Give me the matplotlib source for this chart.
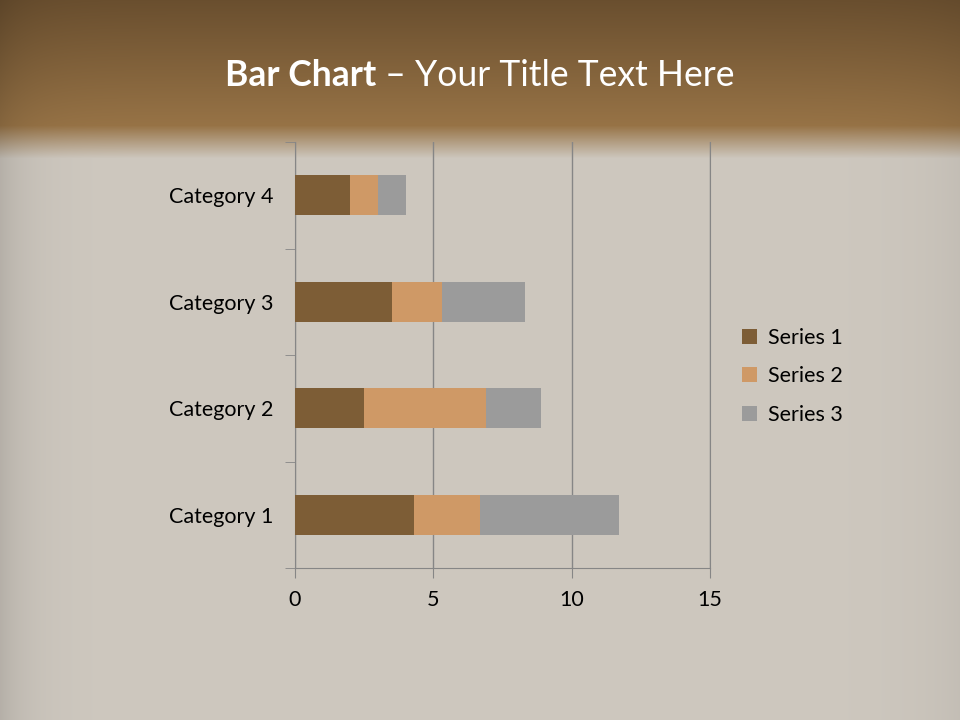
import numpy as np
import matplotlib.pyplot as plt

categories = ['Category 1', 'Category 2', 'Category 3', 'Category 4']
series1 = [4.3, 2.5, 3.5, 2.0]
series2 = [2.4, 4.4, 1.8, 1.0]
series3 = [5.0, 2.0, 3.0, 1.0]
series_names = ['Series 1', 'Series 2', 'Series 3']
colors = ['#7d5d36', '#cf9966', '#9b9b9b']

plt.rcParams['font.family'] = ['Lato', 'DejaVu Sans']

fig = plt.figure(figsize=(9.6, 7.2), dpi=100)

# background: brown header band fading into a pale wood grey
bg = fig.add_axes([0, 0, 1, 1])
h = 720
top = np.array([0x6a, 0x4f, 0x2f]) / 255
mid = np.array([0x97, 0x73, 0x46]) / 255
low = np.array([0xce, 0xc8, 0xbf]) / 255
img = np.zeros((h, 960, 3))
for i in range(h):
    if i < 125:
        f = i / 125
        img[i] = top * (1 - f) + mid * f
    elif i < 158:
        f = (i - 125) / 33
        img[i] = mid * (1 - f) + low * f
    else:
        img[i] = low
x = np.linspace(0, 1, 960)
shade = 1 - 0.12 * np.exp(-x / 0.03) - 0.05 * np.exp(-(1 - x) / 0.05)
img = img * shade[None, :, None]
bg.imshow(img, aspect='auto', extent=[0, 1, 0, 1])
bg.axis('off')

# two-part title, centred as a whole
t1 = fig.text(0, 0.895, 'Bar Chart', ha='left', va='center', color='white',
              fontsize=25.6, fontweight='bold')
t2 = fig.text(0, 0.895, ' – Your Title Text Here', ha='left', va='center',
              color='white', fontsize=25.6)
r = fig.canvas.get_renderer()
w1 = t1.get_window_extent(r).width / 960
w2 = t2.get_window_extent(r).width / 960
x0 = 0.5 - (w1 + w2) / 2
t1.set_x(x0)
t2.set_x(x0 + w1)

ax = fig.add_axes([295 / 960, 1 - 568 / 720, 415 / 960, 426 / 720])
ax.patch.set_alpha(0)
pos = np.arange(len(categories))
left = np.zeros(len(categories))
for vals, name, c in zip([series1, series2, series3], series_names, colors):
    ax.barh(pos, vals, 0.376, left=left, color=c, label=name, zorder=3)
    left = left + np.array(vals)

ax.set_xlim(0, 15)
ax.set_ylim(-0.5, 3.5)
ax.set_xticks([0, 5, 10, 15])
ax.set_yticks(pos)
ax.set_yticklabels(categories)
ax.set_yticks(np.arange(-0.5, 4, 1), minor=True)
ax.tick_params(axis='y', which='major', length=0, pad=15.8, labelsize=15.5)
ax.tick_params(axis='y', which='minor', length=7, color='#868686')
ax.tick_params(axis='x', length=7, color='#868686', labelsize=15.5, pad=9)
ax.grid(axis='x', color='#868686', linewidth=1, zorder=0)
ax.spines['top'].set_visible(False)
for s in ['right', 'left', 'bottom']:
    ax.spines[s].set_color('#868686')

ax.legend(loc='center left', bbox_to_anchor=(1.03, 0.45), frameon=False,
          fontsize=15.5, handlelength=0.7, handleheight=0.7, labelspacing=0.85,
          handletextpad=0.5)

fig.savefig('out.png', dpi=100)
